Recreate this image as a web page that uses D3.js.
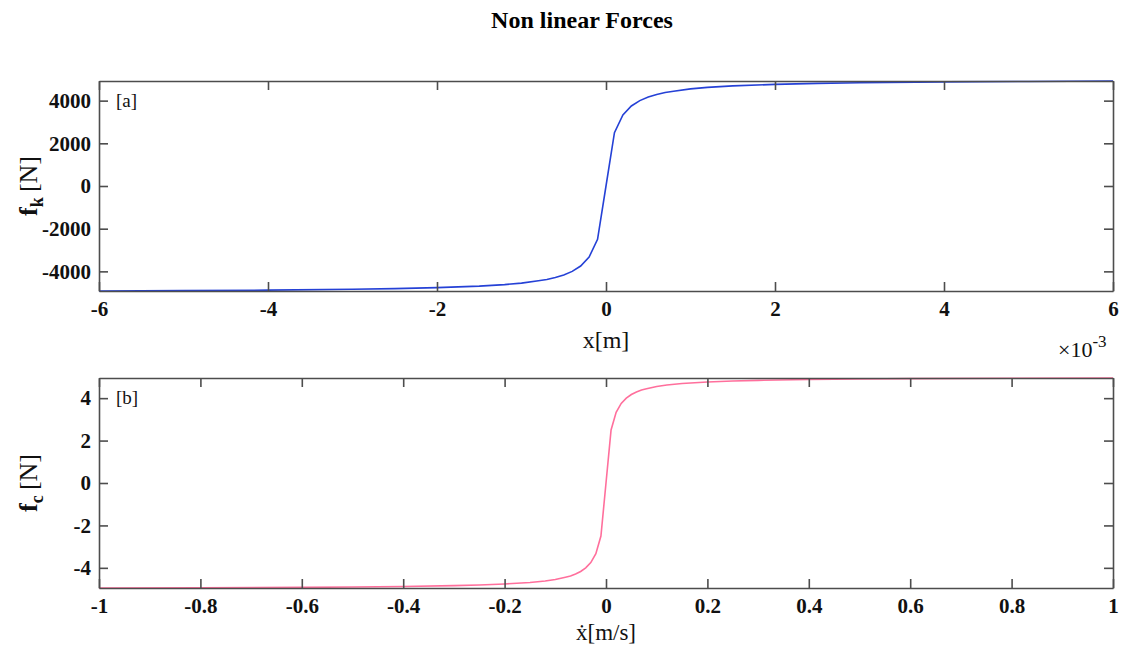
<!DOCTYPE html>
<html><head><meta charset="utf-8">
<script src="https://cdn.jsdelivr.net/npm/d3@7"></script>
<style>
body{margin:0;background:#fff;}
svg{display:block;}
text{font-family:"Liberation Serif","Times New Roman",serif;}
</style></head>
<body>
<svg id="c" width="1121" height="653"></svg>
<script>
// ---- data ----
// panel a: displacement x (units of 1e-3 m) and stiffness force fk [N]
const xDisp = [-6, -5, -4, -3, -2.5, -2, -1.5, -1.2, -1, -0.8, -0.7, -0.6, -0.5, -0.4, -0.3, -0.2, -0.1, 0,
               0.1, 0.2, 0.3, 0.4, 0.5, 0.6, 0.7, 0.8, 1, 1.2, 1.5, 2, 2.5, 3, 4, 5, 6];
const fkVals = [-4920, -4900, -4880, -4840, -4810, -4760, -4690, -4620, -4550, -4440, -4380, -4290, -4170, -4000, -3750, -3330, -2500, 0,
                2500, 3330, 3750, 4000, 4170, 4290, 4380, 4440, 4550, 4620, 4690, 4760, 4810, 4840, 4880, 4900, 4920];
// panel b: velocity xdot [m/s] and damping force fc [N]
const vVel = [-1, -0.8, -0.6, -0.5, -0.4, -0.3, -0.25, -0.2, -0.15, -0.12, -0.1, -0.08, -0.07, -0.06, -0.05, -0.04, -0.03, -0.02, -0.01, 0,
              0.01, 0.02, 0.03, 0.04, 0.05, 0.06, 0.07, 0.08, 0.1, 0.12, 0.15, 0.2, 0.25, 0.3, 0.4, 0.5, 0.6, 0.8, 1];
const fcVals = [-4.95, -4.94, -4.92, -4.90, -4.88, -4.84, -4.81, -4.76, -4.69, -4.62, -4.55, -4.44, -4.38, -4.29, -4.17, -4.00, -3.75, -3.33, -2.50, 0,
                2.50, 3.33, 3.75, 4.00, 4.17, 4.29, 4.38, 4.44, 4.55, 4.62, 4.69, 4.76, 4.81, 4.84, 4.88, 4.90, 4.92, 4.94, 4.95];
// tick labels
const xTicksA = [-6, -4, -2, 0, 2, 4, 6];
const yTicksA = [-4000, -2000, 0, 2000, 4000];
const xTicksB = [-1, -0.8, -0.6, -0.4, -0.2, 0, 0.2, 0.4, 0.6, 0.8, 1];
const yTicksB = [-4, -2, 0, 2, 4];

const svg = d3.select("#c");
const L = 99, R = 1113;
const axisColor = "#4d4d4d";

svg.append("text").attr("x", 582).attr("y", 28).attr("text-anchor", "middle")
  .attr("font-size", 24).attr("font-weight", "bold").text("Non linear Forces");

function panel(opts) {
  const {top, bottom, xs, ys, xt, yt, color, tag} = opts;
  const x = d3.scaleLinear().domain(d3.extent(xs)).range([L, R]);
  const y = d3.scaleLinear().domain(d3.extent(ys)).range([bottom, top]);
  const g = svg.append("g");
  const fmt = d => String(d);

  // curve
  g.append("path").datum(xs.map((v, i) => [v, ys[i]]))
    .attr("fill", "none").attr("stroke", color).attr("stroke-width", 1.6)
    .attr("d", d3.line().x(d => x(d[0])).y(d => y(d[1])));

  const style = sel => {
    sel.select(".domain").attr("stroke", axisColor).attr("stroke-width", 1.6);
    sel.selectAll(".tick line").attr("stroke", axisColor).attr("stroke-width", 1.6);
    sel.selectAll(".tick text").attr("fill", "#111").attr("font-size", 21).attr("font-weight", "bold")
      .attr("font-family", "Liberation Serif, serif");
  };
  g.append("g").attr("transform", `translate(0,${bottom})`)
    .call(d3.axisBottom(x).tickValues(xt).tickFormat(fmt).tickSize(-9).tickSizeOuter(0).tickPadding(10))
    .call(style);
  g.append("g").attr("transform", `translate(0,${top})`)
    .call(d3.axisTop(x).tickValues(xt).tickFormat("").tickSize(-9).tickSizeOuter(0))
    .call(style);
  g.append("g").attr("transform", `translate(${L},0)`)
    .call(d3.axisLeft(y).tickValues(yt).tickFormat(fmt).tickSize(-9).tickSizeOuter(0).tickPadding(8))
    .call(style);
  g.append("g").attr("transform", `translate(${R},0)`)
    .call(d3.axisRight(y).tickValues(yt).tickFormat("").tickSize(-9).tickSizeOuter(0))
    .call(style);

  g.append("text").attr("x", L + 17).attr("y", y(yt[yt.length - 1]) + 6)
    .attr("font-size", 19).attr("fill", "#111").text(tag);
  return {x, y, g};
}

const A = panel({top: 81, bottom: 291, xs: xDisp, ys: fkVals, xt: xTicksA, yt: yTicksA, color: "#2541d6", tag: "[a]"});
const B = panel({top: 378, bottom: 588, xs: vVel, ys: fcVals, xt: xTicksB, yt: yTicksB, color: "#ff6f9c", tag: "[b]"});

// axis labels
svg.append("text").attr("x", 606).attr("y", 348).attr("text-anchor", "middle")
  .attr("font-size", 24).attr("fill", "#111").text("x[m]");
const xe = svg.append("text").attr("x", 1058).attr("y", 357).attr("font-size", 22).attr("fill", "#111");
xe.append("tspan").text("×10");
xe.append("tspan").attr("dy", -10).attr("font-size", 17).text("-3");

svg.append("text").attr("x", 606).attr("y", 640).attr("text-anchor", "middle")
  .attr("font-size", 23).attr("fill", "#111").text("ẋ[m/s]");

function ylab(cy, sub) {
  const t = svg.append("text").attr("transform", `translate(37,${cy}) rotate(-90)`)
    .attr("text-anchor", "middle").attr("font-size", 26).attr("fill", "#111");
  t.append("tspan").attr("font-weight", "bold").text("f");
  t.append("tspan").attr("font-weight", "bold").attr("font-size", 18).attr("dy", 6).text(sub);
  t.append("tspan").attr("dy", -6).text("\u2009[N]");
}
ylab(186, "k");
ylab(483, "c");
</script>
</body></html>
